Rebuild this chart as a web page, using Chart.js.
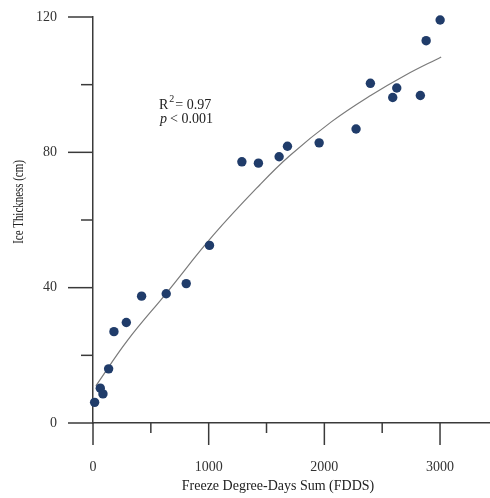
<!DOCTYPE html>
<html>
<head>
<meta charset="utf-8">
<script src="https://cdn.jsdelivr.net/npm/chart.js@4.4.1/dist/chart.umd.min.js"></script>
<style>
    html, body { margin: 0; padding: 0; background: #fff; }
    #wrap { width: 490px; height: 498px; }
</style>
</head>
<body>
<div id="wrap"><canvas id="ice-chart"></canvas></div>
<script>
// Observed points: freeze degree-days sum vs ice thickness (cm)
var fddsValues = [14, 63, 86, 135, 181, 288, 420, 633, 806, 1007, 1287, 1430, 1609, 1681, 1955, 2274, 2398, 2591, 2626, 2830, 2880, 3001];
var thicknessValues = [6.1, 10.3, 8.6, 16.0, 27.0, 29.7, 37.5, 38.2, 41.2, 52.5, 77.2, 76.8, 78.7, 81.8, 82.8, 86.9, 100.4, 96.2, 99.0, 96.8, 113.0, 119.1];

// Fitted curve
var fitFdds = [25, 300, 630, 1040, 1445, 1700, 2060, 2400, 2700, 3010];
var fitThickness = [11.0, 24.5, 38.2, 55.5, 70.5, 79.0, 89.0, 96.8, 102.8, 108.2];

// Ticks (major ones carry a label)
var xTicks = [0, 500, 1000, 1500, 2000, 2500, 3000];
var xLabelTicks = [0, 1000, 2000, 3000];
var yTicks = [0, 20, 40, 60, 80, 100, 120];
var yLabelTicks = [0, 40, 80, 120];

var serif = '"Liberation Serif", "Times New Roman", serif';
var inkColor = '#3a3a3a';

function toPoints(xs, ys) {
    return xs.map(function (x, i) { return {x: x, y: ys[i]}; });
}

/**
 * Draws the outward tick marks (long for labelled ticks, short otherwise),
 * the axis titles and the R^2 / p annotation.
 */
var axisDecor = {
    id: 'axisDecor',
    afterDraw: function (chart) {
        var ctx = chart.ctx;
        var xs = chart.scales.x;
        var ys = chart.scales.y;
        var left = chart.chartArea.left;
        var bottom = chart.chartArea.bottom;

        ctx.save();
        ctx.strokeStyle = inkColor;
        ctx.lineWidth = 1.5;
        xTicks.forEach(function (v) {
            var px = xs.getPixelForValue(v);
            var len = xLabelTicks.indexOf(v) >= 0 ? 22 : 10;
            ctx.beginPath();
            ctx.moveTo(px, bottom);
            ctx.lineTo(px, bottom + len);
            ctx.stroke();
        });
        yTicks.forEach(function (v) {
            var py = ys.getPixelForValue(v);
            var len = yLabelTicks.indexOf(v) >= 0 ? 25 : 12;
            ctx.beginPath();
            ctx.moveTo(left, py);
            ctx.lineTo(left - len, py);
            ctx.stroke();
        });

        // axis titles
        ctx.fillStyle = '#222';
        ctx.font = '14px ' + serif;
        ctx.textAlign = 'center';
        ctx.textBaseline = 'middle';
        ctx.fillText('Freeze Degree-Days Sum (FDDS)', 278, 486);

        ctx.save();
        ctx.translate(19, 202);
        ctx.rotate(-Math.PI / 2);
        ctx.scale(0.78, 1);
        ctx.font = '14px ' + serif;
        ctx.fillText('Ice Thickness (cm)', 0, 0);
        ctx.restore();

        // annotation
        ctx.textAlign = 'left';
        ctx.textBaseline = 'alphabetic';
        ctx.font = '14px ' + serif;
        ctx.fillText('R', 159, 109);
        var rw = ctx.measureText('R').width;
        ctx.font = '10px ' + serif;
        ctx.fillText('2', 159 + rw + 1, 102);
        ctx.font = '14px ' + serif;
        ctx.fillText('= 0.97', 159 + rw + 7, 109);
        ctx.font = 'italic 14px ' + serif;
        ctx.fillText('p', 160, 123);
        var pw = ctx.measureText('p').width;
        ctx.font = '14px ' + serif;
        ctx.fillText('< 0.001', 160 + pw + 3, 123);
        ctx.restore();
    }
};

var ctx = document.getElementById('ice-chart');
var iceChart = new Chart(ctx, {
    type: 'scatter',
    data: {
        datasets: [{
            label: 'Observed',
            data: toPoints(fddsValues, thicknessValues),
            backgroundColor: '#203c6a',
            borderColor: '#203c6a',
            pointRadius: 4.7,
            borderWidth: 0,
            clip: false,
            order: 1
        }, {
            type: 'line',
            label: 'Fit',
            data: toPoints(fitFdds, fitThickness),
            borderColor: '#7a7a7a',
            borderWidth: 1.2,
            pointRadius: 0,
            fill: false,
            tension: 0.4,
            order: 2
        }]
    },
    options: {
        responsive: true,
        maintainAspectRatio: false,
        animation: false,
        layout: {autoPadding: false, padding: {top: 17, left: 0, right: 0, bottom: 0}},
        plugins: {
            legend: {display: false},
            tooltip: {enabled: false}
        },
        scales: {
            x: {
                type: 'linear',
                min: 0,
                max: 3432,
                afterBuildTicks: function (scale) {
                    scale.ticks = xTicks.map(function (v) { return {value: v}; });
                },
                afterFit: function (scale) {
                    scale.height = 75;
                    scale.paddingLeft = 0;
                    scale.paddingRight = 0;
                },
                grid: {display: false, drawTicks: false},
                border: {display: true, color: inkColor, width: 1.5},
                ticks: {
                    autoSkip: false,
                    maxRotation: 0,
                    padding: 36,
                    color: '#333',
                    font: {family: serif, size: 14},
                    callback: function (v) { return xLabelTicks.indexOf(v) >= 0 ? String(v) : ''; }
                }
            },
            y: {
                type: 'linear',
                min: 0,
                max: 120,
                afterBuildTicks: function (scale) {
                    scale.ticks = yTicks.map(function (v) { return {value: v}; });
                },
                afterFit: function (scale) {
                    scale.width = 93;
                    scale.paddingTop = 0;
                    scale.paddingBottom = 0;
                },
                grid: {display: false, drawTicks: false},
                border: {display: true, color: inkColor, width: 1.5},
                ticks: {
                    autoSkip: false,
                    padding: 36,
                    color: '#333',
                    font: {family: serif, size: 14},
                    callback: function (v) { return yLabelTicks.indexOf(v) >= 0 ? String(v) : ''; }
                }
            }
        }
    },
    plugins: [axisDecor]
});
</script>
</body>
</html>
